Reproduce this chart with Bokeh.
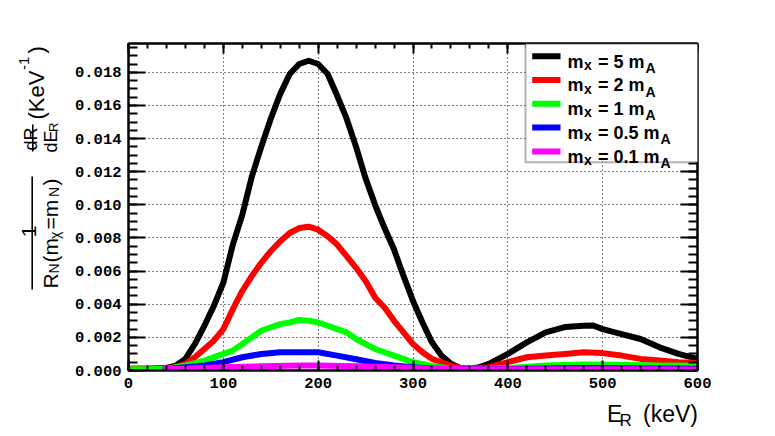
import math
from bokeh.plotting import figure
from bokeh.models import (Range1d, LinearAxis, FixedTicker, PrintfTickFormatter,
                          CustomJSTickFormatter, Label, BoxAnnotation)
from bokeh.layouts import row, column
from bokeh.embed import file_html
from bokeh.resources import INLINE

# ---------------- data ----------------
x_ticks = [0, 100, 200, 300, 400, 500, 600]
y_ticks = [0.0, 0.002, 0.004, 0.006, 0.008, 0.010, 0.012, 0.014, 0.016, 0.018]

x_5 = [2, 20, 40, 50, 60, 70, 80, 90, 100, 110, 120, 130, 140, 150, 160, 170, 180, 190, 200,
       210, 220, 230, 240, 250, 260, 270, 280, 290, 300, 310, 320, 330, 340, 350, 360, 370,
       380, 390, 400, 420, 440, 460, 480, 490, 500, 520, 540, 560, 580, 600]
y_5 = [0.0001, 0.0001, 0.00015, 0.0003, 0.0007, 0.0016, 0.0027, 0.0039, 0.0053, 0.0076,
       0.0094, 0.0117, 0.0135, 0.0152, 0.0167, 0.0179, 0.0185, 0.0187, 0.0185, 0.0179,
       0.0166, 0.0152, 0.0135, 0.0116, 0.0100, 0.0086, 0.0073, 0.0057, 0.0042, 0.0029,
       0.0017, 0.0009, 0.0004, 0.00015, 0.0001, 0.0002, 0.0004, 0.0007, 0.0010, 0.0017,
       0.0023, 0.00262, 0.0027, 0.00272, 0.0025, 0.0022, 0.0019, 0.0014, 0.0010, 0.0007]

x_2 = [2, 20, 40, 50, 60, 70, 80, 90, 100, 110, 120, 130, 140, 150, 160, 170, 180, 190, 200,
       210, 220, 230, 240, 250, 260, 270, 280, 290, 300, 310, 320, 330, 340, 350, 360, 380,
       400, 420, 440, 460, 480, 500, 520, 540, 560, 580, 600]
y_2 = [0.0001, 0.0001, 0.00012, 0.0002, 0.0004, 0.0008, 0.0013, 0.0018, 0.0025, 0.0037,
       0.0048, 0.0057, 0.0065, 0.0072, 0.0078, 0.0083, 0.0086, 0.00868, 0.0085, 0.0081,
       0.0076, 0.0069, 0.0062, 0.0054, 0.0044, 0.0038, 0.0030, 0.0023, 0.0016, 0.0011,
       0.0007, 0.0005, 0.0003, 0.00015, 0.0001, 0.0002, 0.0005, 0.0008, 0.0009, 0.0010,
       0.0011, 0.00105, 0.0009, 0.0007, 0.0006, 0.0005, 0.00045]

x_1 = [2, 20, 40, 60, 80, 100, 110, 120, 130, 140, 150, 160, 170, 180, 190, 200, 210, 220,
       230, 240, 250, 260, 270, 280, 290, 300, 320, 340, 360, 380, 400, 440, 480, 520, 560, 600]
y_1 = [0.00008, 0.00008, 0.0001, 0.0003, 0.0006, 0.0010, 0.0012, 0.0016, 0.0020, 0.0024,
       0.0026, 0.0028, 0.0029, 0.00305, 0.0030, 0.0029, 0.0027, 0.0025, 0.0023, 0.0019,
       0.0016, 0.0013, 0.0011, 0.0009, 0.0007, 0.0005, 0.00028, 0.00012, 0.00008, 0.0001,
       0.00015, 0.0003, 0.00036, 0.00034, 0.0003, 0.00028]

x_05 = [36, 60, 80, 100, 120, 140, 160, 180, 200, 220, 240, 260, 280, 300, 320, 360, 420,
        480, 540, 600]
y_05 = [0.00006, 0.0002, 0.0003, 0.0005, 0.0008, 0.0010, 0.0011, 0.0011, 0.0011, 0.0009,
        0.00068, 0.00045, 0.0003, 0.0002, 0.00012, 0.00008, 0.0001, 0.00015, 0.00012, 0.0001]

x_01 = [36, 60, 100, 140, 180, 200, 240, 280, 320, 360, 420, 480, 540, 600]
y_01 = [0.00008, 0.00012, 0.0002, 0.00025, 0.0003, 0.0003, 0.00025, 0.0002, 0.00012,
        0.00008, 0.00007, 0.00008, 0.00007, 0.00006]

series_vals = ["5", "2", "1", "0.5", "0.1"]
series_x = [x_5, x_2, x_1, x_05, x_01]
series_y = [y_5, y_2, y_1, y_05, y_01]
series_colors = ["#000000", "#ff0000", "#00ff00", "#0000ff", "#ff00ff"]

# ---------------- layout geometry (pixels) ----------------
TOTAL_W, TOTAL_H = 775, 436
LEFT_W = 68                    # strip holding the rotated y title
MAIN_W = TOTAL_W - LEFT_W      # 707
MAIN_H = 400
BOTTOM_H = TOTAL_H - MAIN_H    # strip holding the x title


def blank_fig(w, h):
    f = figure(width=w, height=h, output_backend="svg", toolbar_location=None,
               x_axis_location=None, y_axis_location=None, min_border=0,
               x_range=Range1d(0, w), y_range=Range1d(0, h))
    f.outline_line_color = None
    f.grid.visible = False
    f.background_fill_color = "white"
    f.border_fill_color = "white"
    return f


# ---------------- main figure ----------------
p = figure(width=MAIN_W, height=MAIN_H, output_backend="svg", toolbar_location=None,
           x_range=Range1d(0, 600), y_range=Range1d(0, 0.01974),
           min_border_left=60, min_border_right=78, min_border_top=43,
           min_border_bottom=30)
p.outline_line_color = "black"
p.outline_line_width = 2
p.background_fill_color = "white"
p.border_fill_color = "white"

TICK_FONT = "Liberation Mono"


def style_axis(ax, ticks, minor, maj_in, min_in, labels=True):
    ax.ticker = FixedTicker(ticks=ticks, minor_ticks=minor)
    ax.major_tick_in = maj_in
    ax.major_tick_out = 0
    ax.minor_tick_in = min_in
    ax.minor_tick_out = 0
    ax.axis_line_width = 2
    ax.axis_line_color = "black"
    ax.major_tick_line_width = 2
    ax.minor_tick_line_width = 2
    ax.major_tick_line_color = "black"
    ax.minor_tick_line_color = "black"
    ax.major_label_text_font = TICK_FONT
    ax.major_label_text_font_style = "bold"
    ax.major_label_text_font_size = "15.5px"
    ax.major_label_text_color = "black"
    if not labels:
        ax.formatter = CustomJSTickFormatter(code="return ''")


x_minor = list(range(0, 601, 20))
y_minor = [i * 0.0005 for i in range(0, 40)]

style_axis(p.xaxis[0], x_ticks, x_minor, 10, 5)
p.xaxis[0].major_label_standoff = 7
style_axis(p.yaxis[0], y_ticks, y_minor, 17, 9)
p.yaxis[0].formatter = PrintfTickFormatter(format="%.3f")
p.yaxis[0].major_label_standoff = 7

top_ax = LinearAxis()
style_axis(top_ax, x_ticks, x_minor, 10, 5, labels=False)
p.add_layout(top_ax, "above")
right_ax = LinearAxis()
style_axis(right_ax, y_ticks, y_minor, 17, 9, labels=False)
p.add_layout(right_ax, "right")

for g, t in ((p.xgrid[0], x_ticks[1:-1]), (p.ygrid[0], y_ticks[1:])):
    g.ticker = FixedTicker(ticks=t)
    g.grid_line_color = "black"
    g.grid_line_width = 1
    g.grid_line_dash = "1 3"

for xs, ys, c in zip(series_x, series_y, series_colors):
    p.line(xs, ys, line_width=6, line_color=c, line_join="round")


def add_box(fig, ox, oy, left, right, top, bottom, fill, line=None, lw=0):
    fig.add_layout(BoxAnnotation(left=left - ox, right=right - ox, top=top - oy,
                                 bottom=bottom - oy,
                                 left_units="canvas", right_units="canvas",
                                 top_units="canvas", bottom_units="canvas",
                                 fill_color=fill, fill_alpha=1.0,
                                 line_color=line, line_width=lw, level="overlay"))


def add_label(fig, ox, oy, txt, x, y, fs, angle=0.0, align="left", bold=False):
    fig.add_layout(Label(x=x - ox, y=y - oy, x_units="canvas", y_units="canvas", text=txt,
                         text_font="Liberation Sans",
                         text_font_style="bold" if bold else "normal",
                         text_font_size=f"{fs}px", text_color="black", angle=angle,
                         text_align=align, text_baseline="alphabetic", level="overlay"))


# ---------------- legend (hand made for the subscripts) ----------------
MX, MY = LEFT_W, 0   # main figure origin in page pixels
add_box(p, MX, MY, 525, 697.5, 43.3, 161.7, "white", "black", 2)

ADV = {"0": 0.556, "1": 0.556, "2": 0.556, "5": 0.556, ".": 0.278, " ": 0.278,
       "=": 0.584, "m": 0.889}
LEG_FS = 18
SUB_FS = 14
for i, (lab_v, c) in enumerate(zip(series_vals, series_colors)):
    yc = 55.7 + 23.8 * i
    base = 61.0 + 23.8 * i
    add_box(p, MX, MY, 531.7, 560, yc - 3, yc + 3, c)
    piece2 = "= " + lab_v + " m"
    w2 = sum(ADV[ch] for ch in piece2) * LEG_FS
    for txt, xx, yy, fs in (("m", 567.0, base, LEG_FS), ("x", 583.5, base + 3.3, SUB_FS),
                            (piece2, 597.5, base, LEG_FS), ("A", 598.5 + w2, base + 6.3, SUB_FS)):
        add_label(p, MX, MY, txt, xx, yy, fs, bold=True)

# ---------------- y title strip (rotated to read upward) ----------------
yfig = blank_fig(LEFT_W, TOTAL_H)
R90 = math.pi / 2
ytitle_pieces = [("1", 28.5, 231, 21, "center"),
                 ("R", 50, 288, 21, "left"),
                 ("N", 53, 273, 14, "left"),
                 ("(m", 50, 262, 21, "left"),
                 ("\u03c7", 54, 238.5, 14, "left"),
                 ("=m", 50, 229, 21, "left"),
                 ("N", 53, 196.5, 14, "left"),
                 (")", 50, 185, 21, "left"),
                 ("dR", 30, 138.5, 18, "center"),
                 ("dE", 50, 152, 18, "left"),
                 ("R", 53, 131.5, 13, "left"),
                 ("(KeV", 36, 119, 22, "left"),
                 ("-1", 23, 69.5, 15, "left"),
                 (")", 36, 53, 22, "left")]
for txt, x, y, fs, al in ytitle_pieces:
    add_label(yfig, 0, 0, txt, x, y, fs, R90, al)
add_box(yfig, 0, 0, 30.9, 32.5, 176, 289, "black")
add_box(yfig, 0, 0, 31.5, 33.1, 124, 151, "black")

# ---------------- x title strip ----------------
xfig = blank_fig(MAIN_W, BOTTOM_H)
XO, YO = LEFT_W, MAIN_H
add_label(xfig, XO, YO, "E", 606.5, 413.3, 23)
add_label(xfig, XO, YO, "R", 619.0, 420.0, 17)
add_label(xfig, XO, YO, "(keV)", 697.5, 413.3, 23, align="right")

layout = row(yfig, column(p, xfig, spacing=0), spacing=0)
open("out.html", "w").write(file_html(layout, INLINE))
